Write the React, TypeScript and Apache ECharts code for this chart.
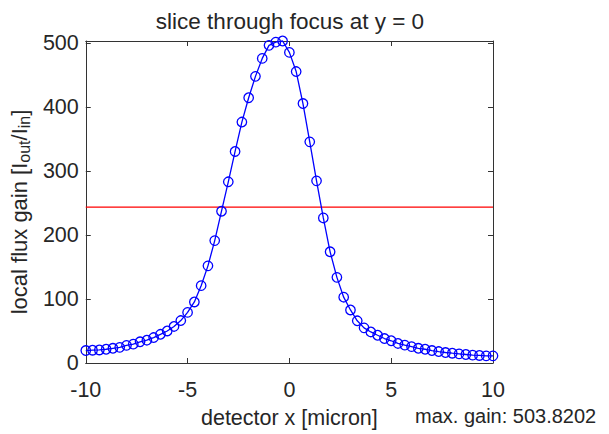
import React, { useEffect, useRef } from "react";
import * as echarts from "echarts";

const xValues: number[] = Array.from({ length: 61 }, (_, i) => -10 + i / 3);
const gainValues: number[] = [
  19.5, 20, 20.4, 21.5, 23, 24.5, 27.6, 29.6, 33.2, 35.7,
  39.8, 44.9, 50.1, 57.2, 66.4, 79.2, 95.5, 121, 152, 191.5,
  237.5, 283.5, 331, 377, 415, 448.5, 476.6, 497, 502, 503.82,
  486, 456, 406, 346, 285, 227, 174, 134, 103, 83,
  66, 55, 48.6, 43.4, 38.3, 34.8, 30.6, 28, 25.6, 23,
  21.5, 19.5, 17.9, 16.4, 15.3, 14.3, 13.3, 12.3, 11.8, 11.2,
  11.2,
];
const halfLevel = 244;
const xTicks = [-10, -5, 0, 5, 10];
const yTicks = [0, 100, 200, 300, 400, 500];
const maxGain = 503.8202;

const FONT = "'Liberation Sans', Arial, sans-serif";
const TEXT = "#262626";
const AXIS = "#333333";
const FS = 21.5;

export default function App() {
  const ref = useRef<HTMLDivElement>(null);
  useEffect(() => {
    if (!ref.current) return;
    const chart = echarts.init(ref.current, undefined, { renderer: "svg" });
    const data = xValues.map((x, i) => [x, gainValues[i]]);
    const halfLine = [
      [xValues[0], halfLevel],
      [xValues[xValues.length - 1], halfLevel],
    ];
    const fmtX = (v: number) => (xTicks.includes(v) ? String(v) : "");
    const fmtY = (v: number) => (yTicks.includes(v) ? String(v) : "");
    const axisLine = { show: true, onZero: false, lineStyle: { color: AXIS, width: 1 } };
    const tick = { show: true, inside: true, length: 5, lineStyle: { color: AXIS } };
    chart.setOption({
      animation: false,
      backgroundColor: "#ffffff",
      textStyle: { fontFamily: FONT },
      title: {
        text: "slice through focus at y = 0",
        left: 285,
        textAlign: "center",
        top: 5,
        textStyle: { fontFamily: FONT, fontSize: 22.5, fontWeight: "normal", color: TEXT },
      },
      grid: { left: 78, top: 41, width: 415, height: 329, containLabel: false },
      xAxis: [
        {
          type: "value",
          min: -10,
          max: 10,
          interval: 5,
          axisLine,
          axisTick: tick,
          splitLine: { show: false },
          axisLabel: { formatter: fmtX, margin: 16, fontSize: FS, color: TEXT, fontFamily: FONT, showMinLabel: true, showMaxLabel: true },
          name: "detector x [micron]",
          nameLocation: "middle",
          nameGap: 44,
          nameTextStyle: { fontSize: FS, color: TEXT, fontFamily: FONT },
        },
        {
          type: "value",
          position: "top",
          min: -10,
          max: 10,
          interval: 5,
          axisLine,
          axisTick: tick,
          splitLine: { show: false },
          axisLabel: { show: false },
        },
      ],
      yAxis: [
        {
          type: "value",
          min: 0,
          max: maxGain,
          interval: 100,
          axisLine,
          axisTick: tick,
          splitLine: { show: false },
          axisLabel: { formatter: fmtY, margin: 7, fontSize: FS, color: TEXT, fontFamily: FONT, padding: [5, 0, 0, 0] },
          name: "local flux gain [I{sub|out}/I{sub|in}]",
          nameLocation: "middle",
          nameRotate: 90,
          nameGap: 50,
          nameTextStyle: {
            fontSize: 22,
            color: TEXT,
            fontFamily: FONT,
            padding: [0, 20, 0, 0],
            rich: {
              sub: { fontSize: 16, color: TEXT, fontFamily: FONT, verticalAlign: "bottom", padding: [10, 0, 0, 0] },
            },
          },
        },
        {
          type: "value",
          position: "right",
          min: 0,
          max: maxGain,
          interval: 100,
          axisLine,
          axisTick: tick,
          splitLine: { show: false },
          axisLabel: { show: false },
        },
      ],
      graphic: [
        {
          type: "text",
          left: 415,
          top: 406,
          style: { text: "max. gain: " + maxGain.toFixed(4), fontSize: 20, fontFamily: FONT, fill: TEXT },
        },
      ],
      series: [
        {
          type: "line",
          data: halfLine,
          symbol: "none",
          silent: true,
          lineStyle: { color: "#ff0000", width: 1.2, type: "solid" },
          z: 1,
        },
        {
          type: "line",
          data,
          clip: false,
          symbol: "circle",
          symbolSize: 9.5,
          lineStyle: { color: "#0000ff", width: 1.3 },
          itemStyle: { color: "rgba(0,0,0,0)", borderColor: "#0000ff", borderWidth: 1.3 },
          z: 2,
        },
      ],
    });
    return () => chart.dispose();
  }, []);
  return <div ref={ref} style={{ position: "absolute", left: 0, top: 0, width: 609, height: 434 }} />;
}
